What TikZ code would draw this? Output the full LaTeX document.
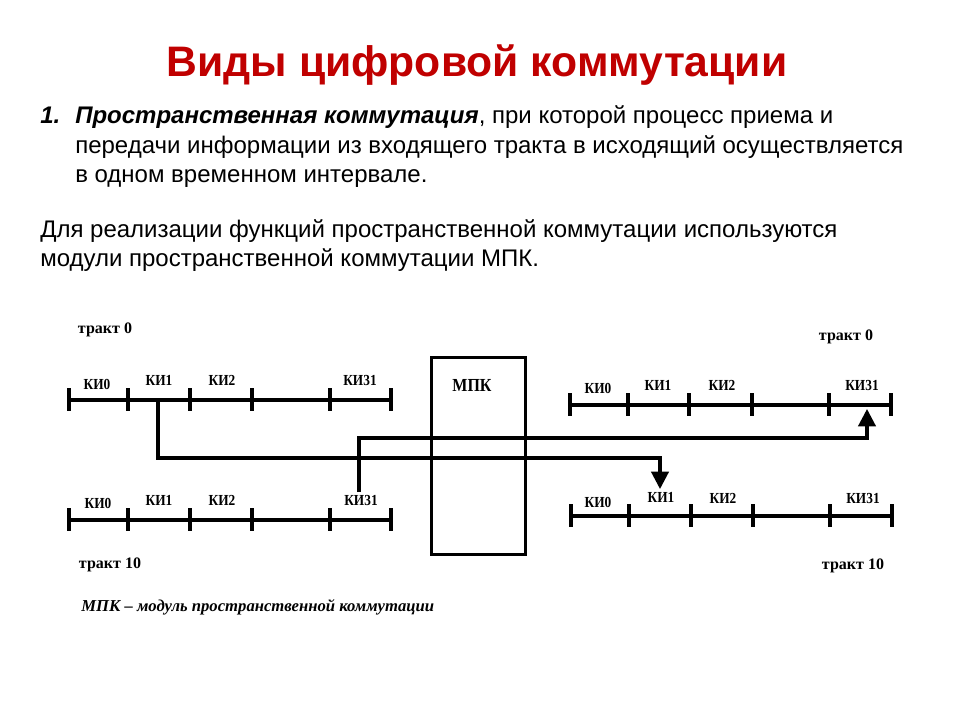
\documentclass[tikz,border=0pt]{standalone}
\usepackage{fontspec}
\setmainfont{Liberation Sans}
\newfontfamily\tnr{Liberation Serif}
\usetikzlibrary{arrows.meta}
\definecolor{titlered}{RGB}{192,0,0}
\begin{document}
\begin{tikzpicture}[x=0.75pt,y=-0.75pt,
  ttl/.style={font=\fontsize{32}{36}\selectfont\bfseries, text=titlered, inner sep=0pt},
  body/.style={font=\fontsize{18}{21}\selectfont, inner sep=0pt, anchor=base west},
  lbl/.style={font=\tnr\bfseries\fontsize{10}{12}\selectfont, inner sep=0pt, yscale=1.15},
  trk/.style={font=\tnr\bfseries\fontsize{12}{14}\selectfont, inner sep=0pt},
  tline/.style={line width=2.3pt},
  conn/.style={line width=2.3pt},
  arr/.style={conn, -{Triangle[width=13pt,length=13pt]}},
  box/.style={draw, line width=2.3pt, minimum width=94*0.75pt, minimum height=197*0.75pt, inner sep=0pt}
]
\useasboundingbox (0,0) rectangle (960,720);
\fill[white] (0,0) rectangle (960,720);

% Title
\node[ttl, anchor=base] (title) at (477,77) {Виды цифровой коммутации};

% Item 1
\node[body] (num) at (40,124) {\textbf{\textit{1.}}};
\node[body] (l1) at (75,124) {\textbf{\textit{Пространственная коммутация}}, при которой процесс приема и};
\node[body] (l2) at (75,153.5) {передачи информации из входящего тракта в исходящий осуществляется};
\node[body] (l3) at (75,183) {в одном временном интервале.};

% Paragraph
\node[body] (p1) at (40,238) {Для реализации функций пространственной коммутации используются};
\node[body] (p2) at (40,267) {модули пространственной коммутации МПК.};

% MPK box
\node[box, anchor=north west] (mpk) at (430,356) {};
\node[lbl, font=\tnr\bfseries\fontsize{12}{14}\selectfont] (mpkl) at (472,385) {МПК};

% Tracks
\draw[tline] (69,400) -- (391,400);
\foreach \x in {69,128,190,252,330,391} \draw[tline] (\x,388) -- (\x,411);
\draw[tline] (69,520) -- (391,520);
\foreach \x in {69,128,190,252,330,391} \draw[tline] (\x,508) -- (\x,531);
\draw[tline] (570,405) -- (891,405);
\foreach \x in {570,628,689,752,829,891} \draw[tline] (\x,393) -- (\x,416);
\draw[tline] (571,516) -- (892,516);
\foreach \x in {571,629,691,753,830,892} \draw[tline] (\x,504) -- (\x,527);

% Labels top-left
\node[trk] (tr0a) at (105,330) {тракт 0};
\node[lbl] (a0) at (97,384) {КИ0};
\node[lbl] (a1) at (159,380) {КИ1};
\node[lbl] (a2) at (222,380) {КИ2};
\node[lbl] (a31) at (360,380) {КИ31};
% bottom-left
\node[lbl] (b0) at (98,503) {КИ0};
\node[lbl] (b1) at (159,500) {КИ1};
\node[lbl] (b2) at (222,500) {КИ2};
\node[lbl] (b31) at (361,500) {КИ31};
\node[trk] (tr10a) at (110,565) {тракт 10};
% top-right
\node[trk] (tr0b) at (846,337) {тракт 0};
\node[lbl] (c0) at (598,388) {КИ0};
\node[lbl] (c1) at (658,385) {КИ1};
\node[lbl] (c2) at (722,385) {КИ2};
\node[lbl] (c31) at (862,385) {КИ31};
% bottom-right
\node[lbl] (d0) at (598,502) {КИ0};
\node[lbl] (d1) at (661,497) {КИ1};
\node[lbl] (d2) at (723,498) {КИ2};
\node[lbl] (d31) at (863,498) {КИ31};
\node[trk] (tr10b) at (853,566) {тракт 10};

% Caption
\node[trk, anchor=west, font=\tnr\bfseries\itshape\fontsize{12.5}{14}\selectfont] (cap) at (81,607) {МПК – модуль пространственной коммутации};

% Connectors
\coordinate (src1) at (158,400);
\coordinate (dst1) at (660,489);
\coordinate (src2) at (359,492);
\coordinate (dst2) at (867,409);
\draw[arr] (src1) |- (660,458) -- (dst1);
\draw[arr] (src2) |- (867,438) -- (dst2);
\end{tikzpicture}
\end{document}
